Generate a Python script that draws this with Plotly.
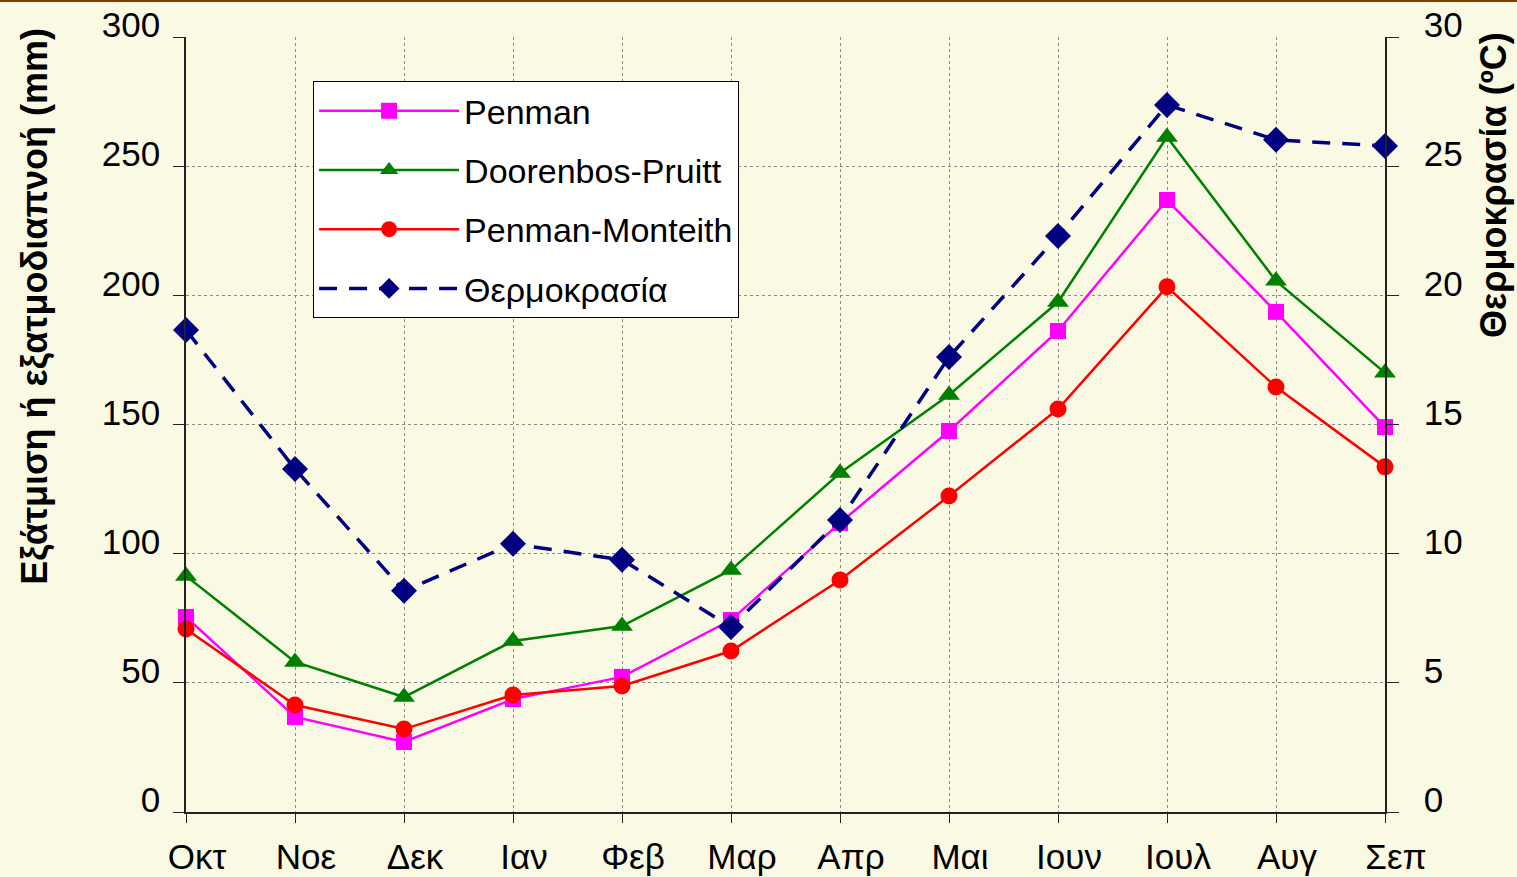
import plotly.graph_objects as go

months = ["Οκτ", "Νοε", "Δεκ", "Ιαν", "Φεβ", "Μαρ", "Απρ", "Μαι", "Ιουν", "Ιουλ", "Αυγ", "Σεπ"]
penman = [75.5, 36.8, 27.1, 43.7, 52.3, 74.3, 111.9, 147.5, 186.2, 236.9, 193.6, 149.0]
doorenbos = [91.4, 58.1, 44.5, 66.2, 72.0, 93.7, 131.2, 161.4, 197.4, 261.3, 205.6, 170.0]
penman_monteith = [70.8, 41.4, 32.1, 45.3, 48.8, 62.3, 89.8, 122.3, 156.0, 203.3, 164.5, 133.6]
temperature = [18.66, 13.28, 8.56, 10.38, 9.76, 7.16, 11.30, 17.61, 22.30, 27.37, 26.02, 25.78]

left_ticks = [0, 50, 100, 150, 200, 250, 300]
right_ticks = [0, 5, 10, 15, 20, 25, 30]

x = list(range(len(months)))
FONT = "Liberation Sans, Arial, sans-serif"
BG = "#FAFAE4"

fig = go.Figure()
fig.add_trace(go.Scatter(x=x, y=penman, name="Penman", legendgroup="a",
                         mode="lines+markers", line=dict(color="#FF00FF", width=2.5),
                         marker=dict(symbol="square", size=16, color="#FF00FF"), cliponaxis=False))
fig.add_trace(go.Scatter(x=x, y=doorenbos, name="Doorenbos-Pruitt", legendgroup="b",
                         mode="lines+markers", line=dict(color="#008000", width=2.5),
                         marker=dict(symbol="triangle-up", size=19, color="#008000"), cliponaxis=False))
fig.add_trace(go.Scatter(x=x, y=penman_monteith, name="Penman-Monteith", legendgroup="c",
                         mode="lines+markers", line=dict(color="#FF0000", width=2.5),
                         marker=dict(symbol="circle", size=17, color="#FF0000"), cliponaxis=False))
fig.add_trace(go.Scatter(x=x, y=temperature, name="Θερμοκρασία", legendgroup="d", yaxis="y2",
                         mode="lines+markers", line=dict(color="#000080", width=3.5, dash="18px,12px"),
                         marker=dict(symbol="diamond", size=20, color="#000080"), cliponaxis=False))

fig.update_layout(
    width=1517, height=877,
    margin=dict(l=186, r=132, t=37, b=65),
    paper_bgcolor=BG, plot_bgcolor=BG,
    font=dict(family=FONT, size=35, color="black"),
    showlegend=True,
    legend=dict(x=0.106, y=0.943, xanchor="left", yanchor="top",
                bgcolor="white", bordercolor="black", borderwidth=1,
                font=dict(family=FONT, size=34, color="black"),
                tracegroupgap=12, itemwidth=140, traceorder="grouped"),
    xaxis=dict(range=[0, 11], tickmode="array", tickvals=x, ticktext=months,
               showgrid=True, gridcolor="#8a8a8a", griddash="dot", gridwidth=1,
               showline=True, linecolor="#222", linewidth=1.5,
               ticks="outside", ticklen=9, tickcolor="#222",
               ticklabelshift=11, ticklabelstandoff=4, zeroline=False, automargin=False,
               tickfont=dict(size=35)),
    yaxis=dict(range=[0, 300], tickmode="array", tickvals=left_ticks,
               showgrid=True, gridcolor="#8a8a8a", griddash="dot", gridwidth=1,
               showline=True, linecolor="#222", linewidth=1.5,
               ticks="outside", ticklen=11, tickcolor="#222",
               ticklabelshift=-12, ticklabelstandoff=6, zeroline=False, automargin=False,
               tickfont=dict(size=35)),
    yaxis2=dict(range=[0, 30], tickmode="array", tickvals=right_ticks, overlaying="y", side="right",
                showgrid=False, showline=True, linecolor="#222", linewidth=1.5,
                ticks="outside", ticklen=12, tickcolor="#222",
                ticklabelshift=-12, ticklabelstandoff=18, zeroline=False, automargin=False,
                tickfont=dict(size=35)),
)

fig.add_annotation(text="<b>Εξάτμιση ή εξατμοδιαπνοή (mm)</b>", xref="paper", yref="paper",
                   x=-0.126, y=0.653, xanchor="center", yanchor="middle", textangle=-90,
                   showarrow=False, font=dict(family=FONT, size=36, color="black"))
fig.add_annotation(text="<b>Θερμοκρασία (ºC)</b>", xref="paper", yref="paper",
                   x=1.090, y=0.809, xanchor="center", yanchor="middle", textangle=-90,
                   showarrow=False, font=dict(family=FONT, size=36, color="black"))
fig.add_shape(type="line", xref="paper", yref="paper", x0=-0.2, x1=1.2, y0=1.0465, y1=1.0465,
              line=dict(color="#7F3F00", width=2))

fig.write_html("out.html", config={"displayModeBar": False},
               post_script="document.body.style.margin='0';document.body.style.overflow='hidden';")
